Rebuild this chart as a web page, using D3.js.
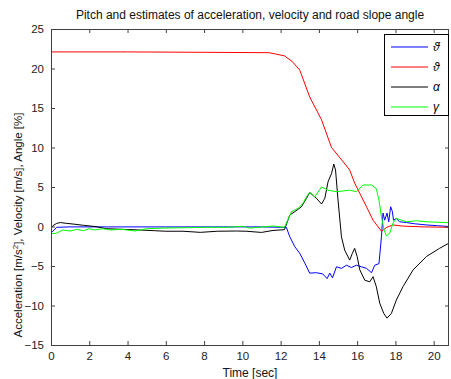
<!DOCTYPE html>
<html>
<head>
<meta charset="utf-8">
<script src="https://cdn.jsdelivr.net/npm/d3@7"></script>
<style>
  body { margin: 0; background: #fff; }
  text { font-family: "Liberation Sans", Arial, sans-serif; }
</style>
</head>
<body>
<svg id="chart" width="451" height="379"></svg>
<script>
"use strict";

// ---- data ----
const xTicks = [0, 2, 4, 6, 8, 10, 12, 14, 16, 18, 20];
const yTicks = [-15, -10, -5, 0, 5, 10, 15, 20, 25];

// acceleration (blue)
const accT = [0, 0.1, 0.3, 1, 3, 6, 9, 11, 12.0, 12.3, 12.48, 12.74, 13.0, 13.26, 13.52, 13.87, 14.2, 14.43, 14.57, 14.71, 14.92, 15.18, 15.44, 15.7, 15.96, 16.22, 16.49, 16.75, 16.92, 17.14, 17.27, 17.35, 17.44, 17.56, 17.65, 17.75, 17.84, 17.9, 18.05, 18.22, 18.57, 19.0, 19.6, 20.2, 20.8];
const accV = [-0.7, -0.6, -0.1, -0.05, -0.05, -0.05, -0.05, -0.05, -0.1, -0.1, -1.3, -2.55, -3.4, -4.6, -5.9, -5.85, -6.0, -6.6, -5.9, -6.5, -5.1, -5.3, -4.9, -5.2, -4.9, -5.1, -5.3, -5.85, -4.9, -4.7, -1.3, 1.7, 0.8, 1.7, 0.6, 2.5, 1.9, 0.8, 1.0, 0.6, 0.5, 0.35, 0.2, 0.1, 0.0];

// velocity (red)
const velT = [0, 4, 8, 11.4, 11.8, 12.2, 12.6, 13.0, 13.52, 14.14, 14.66, 15.2, 15.61, 15.87, 16.49, 16.83, 17.27, 17.55, 17.86, 18.38, 19.5, 20.8];
const velV = [22.1, 22.1, 22.05, 22.0, 21.8, 21.6, 20.9, 19.8, 16.4, 13.5, 10.0, 8.4, 7.15, 5.5, 2.5, 0.8, -0.6, -0.1, 0.2, 0.05, -0.05, -0.1];

// pitch alpha (black)
const alphaT = [0, 0.1, 0.3, 0.5, 0.8, 1.2, 1.7, 2.3, 2.9, 3.8, 4.6, 5.4, 6.0, 6.9, 7.8, 8.7, 9.7, 10.2, 11.0, 11.6, 12.2, 12.48, 12.74, 13.09, 13.35, 13.52, 13.87, 14.14, 14.31, 14.48, 14.66, 14.78, 14.87, 15.0, 15.18, 15.35, 15.61, 15.75, 15.87, 16.0, 16.14, 16.4, 16.66, 16.83, 17.0, 17.18, 17.39, 17.56, 17.79, 18.05, 18.4, 18.92, 19.62, 20.31, 20.8];
const alphaV = [-0.2, 0.1, 0.4, 0.5, 0.4, 0.3, 0.15, 0.0, -0.28, -0.36, -0.44, -0.53, -0.6, -0.6, -0.74, -0.6, -0.57, -0.6, -0.75, -0.5, -0.4, 1.46, 1.87, 2.5, 3.57, 4.3, 3.57, 2.85, 3.57, 5.67, 6.7, 7.9, 7.15, 3.35, -1.3, -3.0, -4.25, -3.4, -2.76, -3.8, -5.5, -6.8, -7.0, -6.35, -7.6, -9.7, -11.0, -11.6, -11.0, -9.3, -7.6, -5.5, -3.8, -2.76, -2.1];

// road slope gamma (green)
const gammaT = [0, 0.1, 0.3, 0.6, 1.0, 1.35, 1.7, 2.0, 2.3, 2.7, 3.1, 3.7, 4.4, 5.0, 6.0, 7.1, 8.1, 9.2, 10.0, 10.4, 11.6, 12.2, 12.57, 12.92, 13.17, 13.35, 13.52, 13.79, 14.14, 14.48, 14.92, 15.61, 15.96, 16.31, 16.75, 17.0, 17.14, 17.27, 17.41, 17.53, 17.7, 17.87, 18.05, 18.31, 18.57, 19.1, 19.6, 20.8];
const gammaV = [-0.8, -0.9, -0.85, -0.44, -0.57, -0.36, -0.53, -0.28, -0.44, -0.28, -0.44, -0.36, -0.57, -0.28, -0.19, -0.15, -0.1, -0.1, 0.02, -0.2, 0.06, -0.1, 1.87, 2.3, 2.94, 3.77, 4.3, 3.77, 5.0, 4.6, 4.4, 4.6, 4.4, 5.25, 5.25, 4.8, 3.35, 1.24, -0.44, -1.2, -0.86, 0.4, 1.04, 0.8, 0.6, 0.73, 0.6, 0.48];

const series = [
  { label: "\u03D1\u0307", color: "#0000ff", t: accT, v: accV },
  { label: "\u03D1", color: "#ff0000", t: velT, v: velV },
  { label: "\u03B1", color: "#000000", t: alphaT, v: alphaV },
  { label: "\u03B3", color: "#00ff00", t: gammaT, v: gammaV }
];

// ---- layout ----
const W = 451, H = 379;
const margin = { top: 29, right: 2, bottom: 34, left: 51 };
const iw = W - margin.left - margin.right;
const ih = H - margin.top - margin.bottom;

const svg = d3.select("#chart");
const g = svg.append("g")
             .attr("transform", `translate(${margin.left},${margin.top})`);

const x = d3.scaleLinear().domain([0, 20.8]).range([0, iw]);
const y = d3.scaleLinear().domain([-15, 25]).range([ih, 0]);

// clip
g.append("clipPath").attr("id", "clip")
  .append("rect").attr("width", iw).attr("height", ih);

// lines
const line = d3.line()
               .x((d) => x(d[0]))
               .y((d) => y(d[1]));

g.append("g").attr("clip-path", "url(#clip)")
  .selectAll("path")
  .data(series)
  .enter().append("path")
    .attr("d", (s) => line(s.t.map((t, i) => [t, s.v[i]])))
    .attr("fill", "none")
    .attr("stroke", (s) => s.color)
    .attr("stroke-width", 1)
    .attr("stroke-linejoin", "round");

// axes (ticks pointing inward, box on all sides)
const axisCol = "#404040";
const styleAxis = (sel) => {
  sel.select(".domain").remove();
  sel.selectAll("line").attr("stroke", axisCol);
  sel.selectAll("text").attr("fill", "#222").style("font-size", "11.5px");
};

g.append("g").attr("transform", `translate(0,${ih})`)
  .call(d3.axisBottom(x).tickValues(xTicks).tickSizeInner(-4).tickSizeOuter(0).tickPadding(7))
  .call(styleAxis);
g.append("g")
  .call(d3.axisTop(x).tickValues(xTicks).tickSizeInner(-4).tickSizeOuter(0).tickFormat(""))
  .call(styleAxis);
g.append("g")
  .call(d3.axisLeft(y).tickValues(yTicks).tickSizeInner(-4).tickSizeOuter(0).tickPadding(7))
  .call(styleAxis);
g.append("g").attr("transform", `translate(${iw},0)`)
  .call(d3.axisRight(y).tickValues(yTicks).tickSizeInner(-4).tickSizeOuter(0).tickFormat(""))
  .call(styleAxis);

g.append("rect")
  .attr("x", 0.5).attr("y", 0.5)
  .attr("width", iw - 1).attr("height", ih)
  .attr("fill", "none").attr("stroke", axisCol);

// title & labels
svg.append("text")
   .attr("x", margin.left + iw / 2).attr("y", 19)
   .attr("text-anchor", "middle")
   .style("font-size", "12px").attr("fill", "#111")
   .text("Pitch and estimates of acceleration, velocity and road slope angle");

svg.append("text")
   .attr("x", margin.left + iw / 2).attr("y", 377)
   .attr("text-anchor", "middle")
   .style("font-size", "12px").attr("fill", "#111")
   .text("Time [sec]");

const yl = svg.append("text")
   .attr("transform", `translate(22,${margin.top + ih / 2 + 38}) rotate(-90)`)
   .attr("text-anchor", "middle")
   .style("font-size", "11.5px").attr("fill", "#111");
yl.append("tspan").text("Acceleration [m/s");
yl.append("tspan").attr("dy", -4).style("font-size", "8px").text("2");
yl.append("tspan").attr("dy", 4).text("], Velocity [m/s], Angle [%]");

// legend
const lg = svg.append("g").attr("transform", "translate(384,34)");
lg.append("rect")
  .attr("x", 0.5).attr("y", 0.5)
  .attr("width", 64).attr("height", 81)
  .attr("fill", "#fff").attr("stroke", "#000");

const item = lg.selectAll("g.item")
  .data(series)
  .enter().append("g")
    .attr("class", "item")
    .attr("transform", (d, i) => `translate(0,${13 + i * 20})`);
item.append("line")
    .attr("x1", 7).attr("x2", 44)
    .attr("stroke", (d) => d.color).attr("stroke-width", 1);
item.append("text")
    .attr("x", 49).attr("dy", "0.35em")
    .style("font-size", "12px").style("font-style", "italic").attr("fill", "#000")
    .text((d) => d.label);
</script>
</body>
</html>
